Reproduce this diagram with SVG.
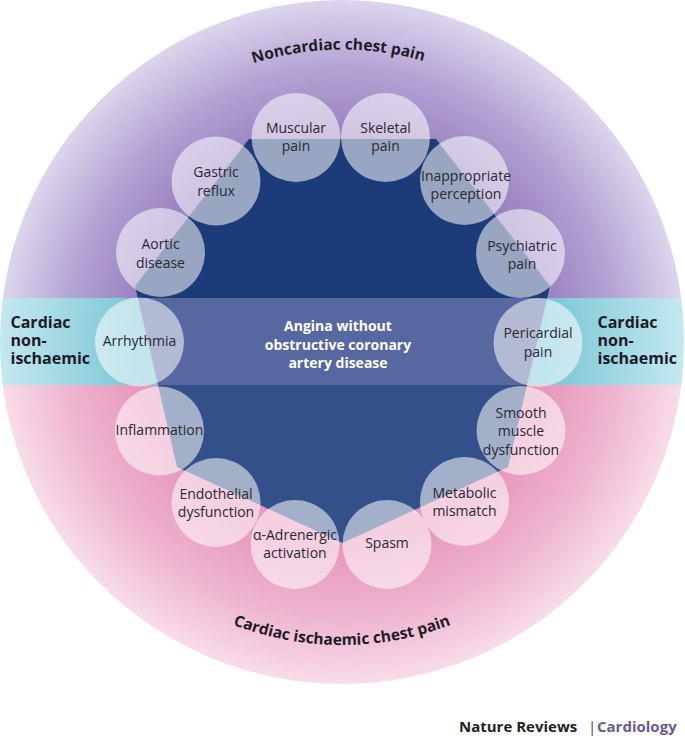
<svg xmlns="http://www.w3.org/2000/svg" width="685" height="746" viewBox="0 0 685 746">
<style>
.lbl{font-family:"Open Sans","Liberation Sans",sans-serif;font-size:14px;font-weight:400;fill:#2b2830;text-anchor:middle}
.zone{font-family:"Open Sans","Liberation Sans",sans-serif;font-weight:700;font-size:16px;fill:#1e1b26}
.arc{font-family:"Open Sans","Liberation Sans",sans-serif;font-weight:700;font-size:15.5px;fill:#1e1b26}
.core{font-family:"Open Sans","Liberation Sans",sans-serif;font-weight:700;font-size:14px;fill:#ffffff;text-anchor:middle}
.bub{fill:#ffffff;fill-opacity:0.55}
</style>
<defs>
<clipPath id="disc"><circle cx="342" cy="342" r="342"/></clipPath>
<clipPath id="coreClip"><polygon points="249,139 436,139 550,286 508,467 342.5,543 177,467 135,286"/></clipPath>
<radialGradient id="gPurple" gradientUnits="userSpaceOnUse" cx="342" cy="342" r="342">
<stop offset="0.6" stop-color="#9880be"/><stop offset="0.8" stop-color="#b3a3d4"/><stop offset="1" stop-color="#ddd5ec"/>
</radialGradient>
<radialGradient id="gCyan" gradientUnits="userSpaceOnUse" cx="342" cy="342" r="342">
<stop offset="0.6" stop-color="#78c6d4"/><stop offset="1" stop-color="#c4e8ef"/>
</radialGradient>
<radialGradient id="gPink" gradientUnits="userSpaceOnUse" cx="342" cy="342" r="342">
<stop offset="0.6" stop-color="#e798bd"/><stop offset="0.8" stop-color="#eeb3ce"/><stop offset="1" stop-color="#f8dce9"/>
</radialGradient>
<path id="arcTop" d="M 49.5,342 A 292.5 292.5 0 0 1 634.5,342"/>
<path id="arcBot" d="M 39,342 A 303 303 0 0 0 645,342"/>
</defs>

<rect width="685" height="746" fill="#ffffff"/>

<g id="background" clip-path="url(#disc)">
<rect x="0" y="0" width="685" height="298" fill="url(#gPurple)"/>
<rect x="0" y="298" width="685" height="87" fill="url(#gCyan)"/>
<rect x="0" y="385" width="685" height="300" fill="url(#gPink)"/>
</g>

<g id="core" clip-path="url(#coreClip)">
<rect x="100" y="130" width="480" height="168" fill="#1c3b79"/>
<rect x="100" y="298" width="480" height="87" fill="#57679f"/>
<rect x="100" y="385" width="480" height="170" fill="#33508b"/>
</g>

<g id="connectors"></g>

<g id="nodes">
<g id="node-arrhythmia"><circle class="bub" cx="139.5" cy="342" r="44.5"/><text class="lbl" x="139.5" y="346">Arrhythmia</text></g>
<g id="node-aortic"><circle class="bub" cx="160.5" cy="252.5" r="44.5"/><text class="lbl" x="160.5" y="249.3">Aortic</text><text class="lbl" x="160.5" y="267.7">disease</text></g>
<g id="node-gastric"><circle class="bub" cx="216" cy="181" r="44.5"/><text class="lbl" x="216" y="177.3">Gastric</text><text class="lbl" x="216" y="196">reflux</text></g>
<g id="node-muscular"><circle class="bub" cx="296" cy="137.5" r="44.5"/><text class="lbl" x="296" y="132.7">Muscular</text><text class="lbl" x="296" y="151">pain</text></g>
<g id="node-skeletal"><circle class="bub" cx="385.5" cy="137.5" r="44.5"/><text class="lbl" x="385.5" y="133">Skeletal</text><text class="lbl" x="385.5" y="151.3">pain</text></g>
<g id="node-inappropriate"><circle class="bub" cx="464.5" cy="180.5" r="44.5"/><text class="lbl" x="466" y="180.7">Inappropriate</text><text class="lbl" x="466" y="199">perception</text></g>
<g id="node-psychiatric"><circle class="bub" cx="520.5" cy="253.5" r="44.5"/><text class="lbl" x="522" y="250.7">Psychiatric</text><text class="lbl" x="522" y="269.3">pain</text></g>
<g id="node-pericardial"><circle class="bub" cx="538" cy="342.5" r="44.5"/><text class="lbl" x="538" y="338.3">Pericardial</text><text class="lbl" x="538" y="357.3">pain</text></g>
<g id="node-smooth"><circle class="bub" cx="521" cy="430.5" r="44.5"/><text class="lbl" x="521" y="417.5">Smooth</text><text class="lbl" x="521" y="436">muscle</text><text class="lbl" x="521" y="454.5">dysfunction</text></g>
<g id="node-metabolic"><circle class="bub" cx="464.5" cy="501.5" r="44.5"/><text class="lbl" x="464.5" y="498.3">Metabolic</text><text class="lbl" x="464.5" y="516">mismatch</text></g>
<g id="node-spasm"><circle class="bub" cx="387" cy="544.5" r="44.5"/><text class="lbl" x="387" y="548.3">Spasm</text></g>
<g id="node-adrenergic"><circle class="bub" cx="295" cy="544.5" r="44.5"/><text class="lbl" x="295" y="540">α-Adrenergic</text><text class="lbl" x="295" y="558.3">activation</text></g>
<g id="node-endothelial"><circle class="bub" cx="216" cy="502.5" r="44.5"/><text class="lbl" x="216" y="499.3">Endothelial</text><text class="lbl" x="216" y="517.3">dysfunction</text></g>
<g id="node-inflammation"><circle class="bub" cx="159.5" cy="431" r="44.5"/><text class="lbl" x="159.5" y="435">Inflammation</text></g>
</g>

<g id="center-label">
<text class="core" x="338" y="331">Angina without</text>
<text class="core" x="338" y="349.5">obstructive coronary</text>
<text class="core" x="338" y="368">artery disease</text>
</g>

<g id="zone-labels">
<text class="arc"><textPath href="#arcTop" startOffset="49.6%" text-anchor="middle">Noncardiac chest pain</textPath></text>
<text class="arc"><textPath href="#arcBot" startOffset="50%" text-anchor="middle">Cardiac ischaemic chest pain</textPath></text>
<text class="zone" x="10.5" y="327.5">Cardiac</text>
<text class="zone" x="10.5" y="345.5">non-</text>
<text class="zone" x="10.5" y="363.5">ischaemic</text>
<text class="zone" x="597.5" y="327.5">Cardiac</text>
<text class="zone" x="597.5" y="345.5">non-</text>
<text class="zone" x="597.5" y="363.5">ischaemic</text>
</g>

<g id="footer" font-family="'Open Sans','Liberation Sans',sans-serif" font-size="15">
<text x="459" y="731.5" font-weight="700" fill="#231f20">Nature Reviews</text>
<text x="588" y="731.5" font-weight="400" fill="#444444">|</text>
<text x="597" y="731.5" font-weight="700" fill="#6d5a93">Cardiology</text>
</g>
</svg>
